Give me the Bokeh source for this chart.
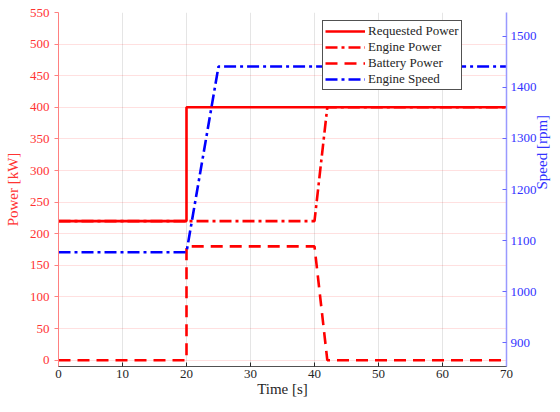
import math
from bokeh.plotting import figure
from bokeh.models import Range1d, LinearAxis, FixedTicker, Legend, LegendItem
from bokeh.embed import file_html
from bokeh.resources import INLINE

# Data
time_req = [0, 20, 20, 70]
req_power = [220, 220, 400, 400]

time_eng = [0, 20, 40, 42, 70]
eng_power = [220, 220, 220, 400, 400]

time_bat = [0, 20, 20, 40, 42, 70]
bat_power = [0, 0, 180, 180, 0, 0]

time_spd = [0, 20, 25, 70]
eng_speed = [1077, 1077, 1441, 1441]

x_ticks = [0, 10, 20, 30, 40, 50, 60, 70]
power_ticks = list(range(0, 551, 50))
speed_ticks = [900, 1000, 1100, 1200, 1300, 1400, 1500]

FONT = "Liberation Serif"
RED = "#ff0000"
BLUE = "#0000ff"

p = figure(width=560, height=412, output_backend="svg", toolbar_location=None,
           x_range=Range1d(0, 70), y_range=Range1d(-10, 550),
           min_border_left=58, min_border_right=54, min_border_top=12, min_border_bottom=46)
p.outline_line_color = None
p.background_fill_color = "white"
p.border_fill_color = "white"

p.extra_y_ranges = {"speed": Range1d(853, 1547)}

# grids
p.xgrid.ticker = FixedTicker(ticks=x_ticks)
p.ygrid.ticker = FixedTicker(ticks=power_ticks)
p.xgrid.grid_line_color = "#262626"
p.xgrid.grid_line_alpha = 0.12
p.ygrid.grid_line_color = RED
p.ygrid.grid_line_alpha = 0.12

# x axis
xa = p.xaxis[0]
xa.ticker = FixedTicker(ticks=x_ticks)
xa.axis_label = "Time [s]"
xa.axis_label_text_font = FONT
xa.axis_label_text_font_style = "normal"
xa.axis_label_text_font_size = "15px"
xa.axis_label_text_color = "#262626"
xa.axis_label_standoff = 0
xa.major_label_text_font = FONT
xa.major_label_text_font_size = "13px"
xa.major_label_text_color = "#262626"
xa.major_label_standoff = 3
xa.axis_line_color = "#262626"
xa.axis_line_alpha = 0.8
xa.major_tick_line_color = "#262626"
xa.major_tick_in = 4
xa.major_tick_out = 0
xa.minor_tick_line_color = None

# left axis
ya = p.yaxis[0]
ya.ticker = FixedTicker(ticks=power_ticks)
ya.axis_label = "Power [kW]"
ya.axis_label_text_font = FONT
ya.axis_label_text_font_style = "normal"
ya.axis_label_text_font_size = "15px"
ya.axis_label_text_color = "#ff3333"
ya.axis_label_standoff = 6
ya.major_label_text_font = FONT
ya.major_label_text_font_size = "13px"
ya.major_label_text_color = "#ff3333"
ya.major_label_standoff = 5
ya.axis_line_color = "#ff8080"
ya.major_tick_line_color = "#ff8080"
ya.major_tick_in = 0
ya.major_tick_out = 4
ya.minor_tick_line_color = None

# right axis
ra = LinearAxis(y_range_name="speed", ticker=FixedTicker(ticks=speed_ticks))
ra.axis_label = "Speed [rpm]"
ra.axis_label_orientation = math.pi / 2
ra.axis_label_text_font = FONT
ra.axis_label_text_font_style = "normal"
ra.axis_label_text_font_size = "15px"
ra.axis_label_text_color = "#3333ff"
ra.axis_label_standoff = 2
ra.major_label_text_font = FONT
ra.major_label_text_font_size = "13px"
ra.major_label_text_color = "#3333ff"
ra.major_label_standoff = 4
ra.axis_line_color = "#9999ff"
ra.axis_line_width = 1.5
ra.major_tick_line_color = "#6666ff"
ra.major_tick_in = 4
ra.major_tick_out = 0
ra.minor_tick_line_color = None
p.add_layout(ra, "right")

# lines
r1 = p.line(time_req, req_power, line_color=RED, line_width=2.6)
r2 = p.line(time_eng, eng_power, line_color=RED, line_width=2.6, line_dash="12 4 3 4")
r3 = p.line(time_bat, bat_power, line_color=RED, line_width=2.6, line_dash="12 7")
r4 = p.line(time_spd, eng_speed, line_color=BLUE, line_width=2.6, line_dash="12 4 3 4",
            y_range_name="speed")

legend = Legend(items=[
    LegendItem(label="Requested Power", renderers=[r1]),
    LegendItem(label="Engine Power", renderers=[r2]),
    LegendItem(label="Battery Power", renderers=[r3]),
    LegendItem(label="Engine Speed", renderers=[r4]),
], location=(264, 276))
legend.label_text_font = FONT
legend.label_text_font_size = "13px"
legend.label_text_color = "#262626"
legend.label_height = 12
legend.glyph_height = 12
legend.glyph_width = 40
legend.spacing = 0
legend.padding = 2
legend.margin = 0
legend.label_standoff = 3
legend.border_line_color = "#262626"
legend.border_line_alpha = 0.8
legend.background_fill_color = "white"
legend.background_fill_alpha = 1.0
p.add_layout(legend, "center")

open("out.html", "w").write(file_html(p, INLINE))
